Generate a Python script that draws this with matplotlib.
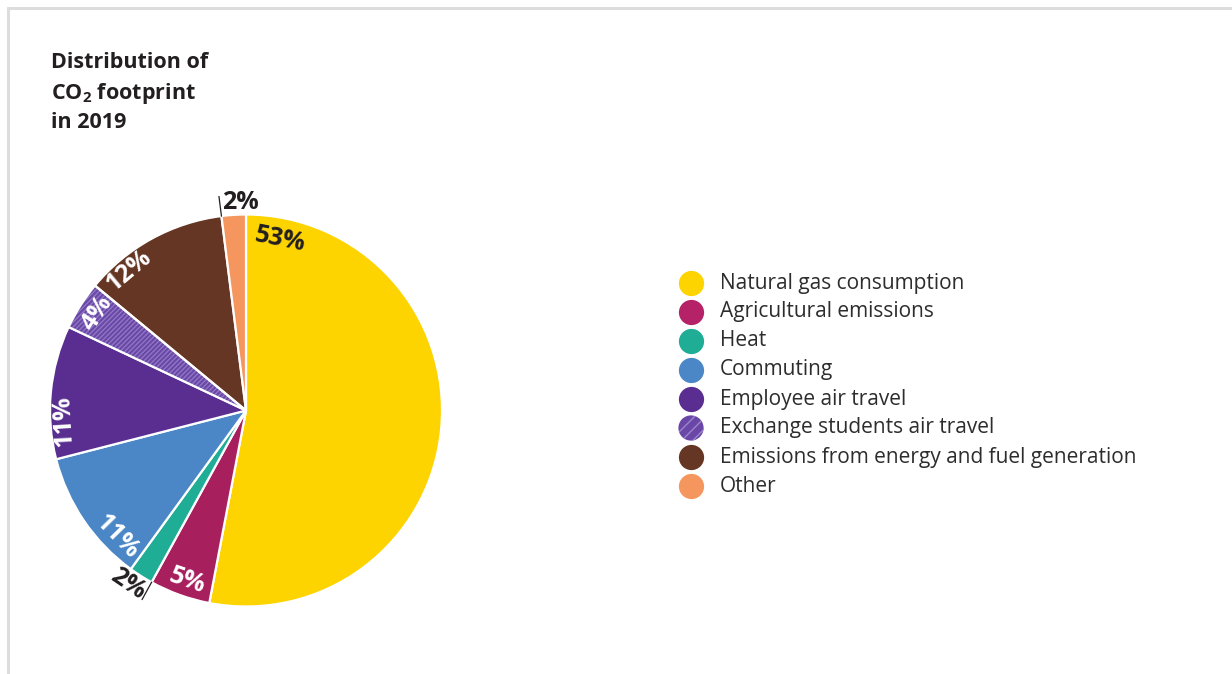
import matplotlib
matplotlib.use("Agg")
import matplotlib.pyplot as plt
from matplotlib.patches import Wedge
import numpy as np

plt.rcParams['font.family'] = ['Open Sans', 'DejaVu Sans']
plt.rcParams['mathtext.fontset'] = 'custom'
plt.rcParams['mathtext.bf'] = 'Open Sans:bold'
plt.rcParams['mathtext.rm'] = 'Open Sans'

# dados
categorias = ['Natural gas consumption', 'Agricultural emissions', 'Heat', 'Commuting',
              'Employee air travel', 'Exchange students air travel',
              'Emissions from energy and fuel generation', 'Other']
valores = [53, 5, 2, 11, 11, 4, 12, 2]
cores = ['#FDD300', '#A81F5E', '#20AD96', '#4B87C6', '#5A2E91', '#6A46A6', '#663624', '#F5965E']
cores_legenda = ['#FDD300', '#B52268', '#20AD96', '#4B87C6', '#5A2E91', '#6A46A6', '#663624', '#F5965E']

escuro = '#231F20'
W, H = 1232, 674
fig = plt.figure(figsize=(W / 100, H / 100), dpi=100)

# camada de fundo em pixels (moldura, titulo, legenda)
bg = fig.add_axes([0, 0, 1, 1])
bg.set_xlim(0, W)
bg.set_ylim(H, 0)
bg.axis('off')
bg.plot([7, W], [7.5, 7.5], color='#DDDDDD', lw=2.2, solid_capstyle='butt')
bg.plot([7.5, 7.5], [7, H], color='#DDDDDD', lw=2.2, solid_capstyle='butt')

bg.text(51, 62, 'Distribution of', fontsize=15.5, fontweight='bold', color=escuro, va='center')
bg.text(51, 93, r'CO$_\mathbf{2}$ footprint', fontsize=15.5, fontweight='bold', color=escuro, va='center')
bg.text(51, 123, 'in 2019', fontsize=15.5, fontweight='bold', color=escuro, va='center')

# legenda
y_leg = 283 + 29 * np.arange(len(categorias))
for i, (cat, cor) in enumerate(zip(categorias, cores_legenda)):
    if i == 5:
        bg.scatter(691, y_leg[i], s=330, color=cor, edgecolor='#9A86CC', linewidth=0, hatch='///')
    else:
        bg.scatter(691, y_leg[i], s=330, color=cor, linewidth=0)
    bg.text(720, y_leg[i], cat, fontsize=15, color='#2D2D2D', va='center')

# pizza
cx, cy, R = 246, 410.5, 196
lado = 480
ax = fig.add_axes([(cx - lado / 2) / W, (H - cy - lado / 2) / H, lado / W, lado / H])

fatias, _ = ax.pie(valores, colors=cores, startangle=90, counterclock=False, radius=1,
                   wedgeprops=dict(edgecolor='white', linewidth=1.6))
lim = lado / 2 / R
ax.set_xlim(-lim, lim)
ax.set_ylim(-lim, lim)
ax.set_aspect('equal')
ax.axis('off')

# fatia hachurada
h = fatias[5]
h.set_hatch('///////')
h.set_edgecolor('#8E77C4')
h.set_linewidth(0)
plt.rcParams['hatch.linewidth'] = 1.5
borda = Wedge(h.center, h.r, h.theta1, h.theta2, fill=False, edgecolor='white', linewidth=1.6)
ax.add_patch(borda)

# rotulos
fim = 90 - 3.6 * np.cumsum(valores)
inicio = np.concatenate([[90], fim[:-1]])
meio = (inicio + fim) / 2
desloc = [84.2, 0.7, -1.9, 10.1, 8.6, -0.9, 11.2, -2.0]  # ajuste de angulo
raio = [0.89, 0.92, 1.07, 0.92, 0.93, 0.91, 0.93, 1.06]
fora = [False, False, True, False, False, False, False, True]

for v, m, d, r, f in zip(valores, meio, desloc, raio, fora):
    ang = m + d
    rot = (ang - 90 + 180) % 360 - 180
    if rot > 100 or rot < -100:
        rot += 180
    if f and abs(rot) < 5:
        rot = 0
    cor_txt = escuro if (f or v == 53) else 'white'
    ax.text(r * np.cos(np.radians(ang)), r * np.sin(np.radians(ang)), f'{v}%',
            rotation=rot, rotation_mode='anchor', ha='center', va='center',
            fontsize=18, fontweight='bold', color=cor_txt)

# linhas de chamada para rotulos externos
for a in [inicio[2], fim[6]]:
    t = np.radians(a)
    ax.plot([1.0 * np.cos(t), 1.1 * np.cos(t)], [1.0 * np.sin(t), 1.1 * np.sin(t)],
            color=escuro, lw=0.9)

fig.savefig('out.png', dpi=100)
